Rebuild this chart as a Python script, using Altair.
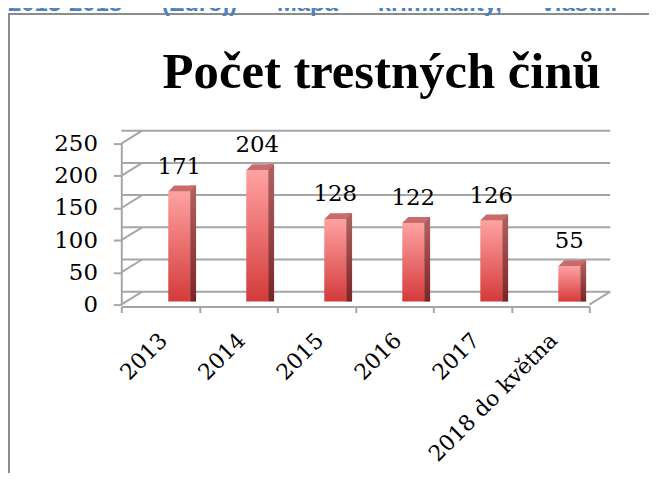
import altair as alt
import pandas as pd

# ---- data ----
years = ["2013", "2014", "2015", "2016", "2017", "2018 do května"]
counts = [171, 204, 128, 122, 126, 55]
y_ticks = [0, 50, 100, 150, 200, 250]
title_text = "Počet trestných činů"
NB = "\u00a0" * 6
header_text = NB.join(["2013-2018", "(Zdroj)", "Mapa", "kriminality,", "vlastní", "zpracování)"])

# ---- layout constants ----
W, H = 471, 162
DX, DY = 21, -13          # depth of the 3D back wall
BAR_DX = 19               # bars sit a bit back in depth
GRID = "#a6a6a6"
LABEL_FONT = "DejaVu Serif"

df = pd.DataFrame({"year": years, "count": counts})
grid_df = pd.DataFrame({"count": y_ticks})
floor_df = pd.DataFrame({"count": [0]})

x_enc = alt.X(
    "year:N",
    sort=years,
    scale=alt.Scale(paddingInner=0, paddingOuter=0),
    axis=alt.Axis(
        title=None, labelAngle=-45, labelAlign="right", labelBaseline="middle",
        labelFont=LABEL_FONT, labelFontSize=22, labelColor="black",
        labelPadding=24, labelOffset=3, labelLimit=400, labelOverlap=False,
        tickBand="extent", tickSize=6, tickColor=GRID, tickWidth=2,
        domainColor=GRID, domainWidth=2, grid=False, offset=2,
    ),
)
y_enc = alt.Y(
    "count:Q",
    scale=alt.Scale(domain=[0, 250], nice=False),
    axis=alt.Axis(
        values=y_ticks, title=None, labelFont=LABEL_FONT, labelFontSize=23,
        labelColor="black", labelPadding=16, tickSize=8, tickColor=GRID,
        tickWidth=2, domainColor=GRID, domainWidth=2, grid=False,
    ),
)

one = pd.DataFrame({"t": [title_text]})

frame = alt.Chart(one).mark_rect(
    fill="white", fillOpacity=0, stroke="#8c8c8c", strokeWidth=2
).encode(
    x=alt.value(-113), x2=alt.value(900), y=alt.value(-130.5), y2=alt.value(900)
)

header = alt.Chart(pd.DataFrame({"t": [header_text]})).mark_text(
    font="Liberation Sans", fontSize=24, fontWeight="bold", color="#4f81bd",
    align="left", baseline="alphabetic"
).encode(text="t:N", x=alt.value(-114), y=alt.value(-133))

title = alt.Chart(one).mark_text(
    font="Liberation Serif", fontSize=51, fontWeight="bold", color="black",
    align="center", baseline="alphabetic"
).encode(text="t:N", x=alt.value(262), y=alt.value(-56))

back_grid = alt.Chart(grid_df).mark_rule(
    color=GRID, strokeWidth=2, xOffset=DX, x2Offset=DX, yOffset=DY, y2Offset=DY
).encode(y=y_enc)

side_grid = alt.Chart(grid_df).mark_rule(
    color=GRID, strokeWidth=2, y2Offset=DY
).encode(x=alt.value(0), x2=alt.value(DX), y=y_enc, y2=alt.Y2("count:Q"))

floor_right = alt.Chart(floor_df).mark_rule(
    color=GRID, strokeWidth=2, y2Offset=DY
).encode(x=alt.value(W), x2=alt.value(W + DX), y=y_enc, y2=alt.Y2("count:Q"))

front_grad = alt.Gradient(
    gradient="linear", x1=0, x2=0, y1=0, y2=1,
    stops=[alt.GradientStop(color="#ffa2a2", offset=0),
           alt.GradientStop(color="#d43a3a", offset=1)],
)
side_grad = alt.Gradient(
    gradient="linear", x1=0, x2=0, y1=0, y2=1,
    stops=[alt.GradientStop(color="#b26262", offset=0),
           alt.GradientStop(color="#7c2424", offset=1)],
)

side = alt.Chart(df).mark_bar(
    width=6, xOffset=BAR_DX + 14, yOffset=-9, y2Offset=-3, color=side_grad
).encode(x=x_enc, y=y_enc, y2=alt.datum(0))

front = alt.Chart(df).mark_bar(
    width=22, xOffset=BAR_DX, yOffset=-3, y2Offset=-3, color=front_grad
).encode(x=x_enc, y=y_enc, y2=alt.datum(0))

top = alt.Chart(df).mark_point(
    shape="M -1.1 0 L 1.1 0 L 1.7 -0.6 L -0.5 -0.6 Z", size=400, filled=True,
    opacity=1, color="#c96b6b", strokeWidth=0, xOffset=BAR_DX, yOffset=-3
).encode(x=x_enc, y=y_enc)

labels = alt.Chart(df).mark_text(
    font=LABEL_FONT, fontSize=23, color="black", align="center",
    baseline="alphabetic", dx=BAR_DX, dy=-21
).encode(x=x_enc, y=y_enc, text="count:Q")

chart = alt.layer(
    frame, header, title, back_grid, side_grid, floor_right, side, front, top, labels
).properties(
    width=W, height=H,
    autosize=alt.AutoSizeParams(type="none"),
    padding={"left": 114, "top": 135, "right": 60, "bottom": 168},
    background="white",
).configure_view(stroke=None)

chart.save("out.html", embed_options={"renderer": "svg", "actions": False})
